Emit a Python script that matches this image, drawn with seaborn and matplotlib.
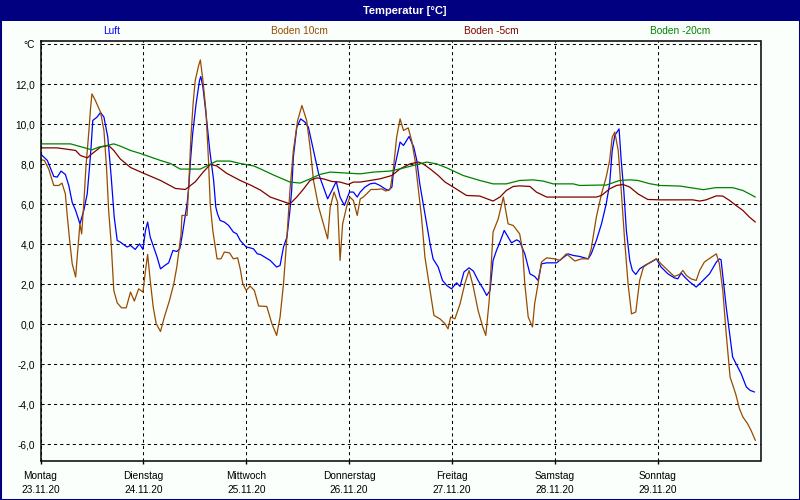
import numpy as np
import pandas as pd
import matplotlib
matplotlib.use("Agg")
import matplotlib.pyplot as plt
import matplotlib.transforms as mtransforms
import seaborn as sns
from matplotlib.patches import Rectangle

# ---------------- data ----------------
title = "Temperatur [°C]"
series_names = ["Luft", "Boden 10cm", "Boden -5cm", "Boden -20cm"]
series_colors = ["#0000FF", "#964B00", "#800000", "#008000"]
day_names = ["Montag", "Dienstag", "Mittwoch", "Donnerstag", "Freitag", "Samstag", "Sonntag"]
day_dates = ["23.11.20", "24.11.20", "25.11.20", "26.11.20", "27.11.20", "28.11.20", "29.11.20"]
y_tick_values = [-6, -4, -2, 0, 2, 4, 6, 8, 10, 12, 14]
y_tick_labels = ["-6,0", "-4,0", "-2,0", "0,0", "2,0", "4,0", "6,0", "8,0", "10,0", "12,0", "°C"]

# hours since Monday 00:00
luft_hours = [0, 1.6, 3.1, 3.9, 4.8, 5.8, 6.6, 7.4, 8.2, 9.2, 10.1, 10.9, 11.5, 11.8, 12.2, 13.2,
              14.0, 14.8, 15.7, 16.5, 17.2, 17.9, 18.6, 20.2, 21.0, 22.1, 23.1, 23.9, 24.5, 25.0,
              25.6, 26.4, 27.2, 28.0, 29.0, 29.9, 30.9, 31.8, 32.5, 33.0, 33.6, 34.2, 34.6, 35.0,
              35.5, 36.3, 37.1, 37.4, 37.9, 38.7, 39.5, 40.4, 40.9, 41.3, 41.9, 42.9, 43.9, 45.0,
              45.8, 46.6, 48.0, 48.9, 49.7, 50.6,
              51.3, 53.6, 55.1, 55.9, 56.7, 57.5, 58.2, 58.6, 59.0, 59.8, 60.7, 61.7, 62.5, 63.7,
              64.9, 66.0, 67.0, 68.0, 69.0, 69.9, 70.9, 72.1, 73.0, 73.9, 74.6, 75.7, 76.9, 78.0,
              79.2, 80.4, 81.2, 82.0, 82.3, 82.9, 83.9, 84.7, 86.0, 87.1, 87.8, 88.5, 89.3, 90.1,
              90.9, 91.6, 92.8, 93.8, 94.8, 95.9, 97.1, 97.9, 98.8, 100.0, 101.0, 102.1, 103.3,
              104.1, 104.9, 105.6, 106.4, 107.2, 108.2, 109.1, 109.9, 111.1,
              111.8, 113.0, 114.2, 115.3, 116.1, 116.9, 118.1, 120.4, 121.9, 123.1, 124.3, 125.8,
              127.8, 128.5, 129.7, 130.9, 132.0, 132.8, 133.4, 134.0, 135.0, 135.5, 136.1, 136.7,
              137.5, 138.1, 138.9, 139.8, 141.0, 142.5, 143.7, 144.8, 146.4, 147.9, 148.7, 149.5,
              150.3, 151.5, 153.0, 154.2, 156.1, 157.7, 158.4, 158.8, 159.4, 160.0, 160.6, 161.5,
              162.5, 163.5, 164.7, 165.6, 166.6]
luft_temp = [8.53, 8.2, 7.4, 7.37, 7.67, 7.5, 6.95, 6.1, 5.7, 5.03, 5.7, 6.53, 8.03, 8.87, 10.2, 10.37,
             10.6, 10.37, 9.37, 7.37, 5.37, 4.2, 4.12, 3.87, 3.95, 3.75, 4.03, 3.75, 4.7, 5.12,
             4.37, 3.87, 3.37, 2.78, 2.95, 3.08, 3.7, 3.65, 3.78, 4.37, 5.2, 6.03, 6.87, 8.2,
             9.53, 11.03, 12.2, 12.4, 11.87, 10.37, 8.7, 7.2, 5.87, 5.53, 5.2, 5.12, 4.95, 4.62,
             4.53, 4.2, 3.87, 3.83, 3.78, 3.53,
             3.5, 3.2, 2.87, 2.95, 3.87, 4.37, 5.7, 6.7, 8.37, 9.87, 10.28, 10.12, 9.87, 8.7,
             7.53, 6.87, 6.28, 6.7, 7.15, 6.37, 5.95, 6.62, 6.62, 6.37, 6.62, 6.87, 7.03, 7.07,
             6.95, 6.78, 6.7, 6.87, 7.53, 8.12, 9.12, 8.95, 9.4, 8.87, 8.2, 7.03, 6.03, 5.03,
             4.03, 3.28, 2.87, 2.2, 1.95, 1.78, 2.08, 1.9, 2.62, 2.83, 2.67, 2.2, 1.78,
             1.45, 1.7, 3.2, 3.7, 4.12, 4.7, 4.37, 4.08, 4.23,
             4.15, 3.53, 2.53, 2.4, 2.2, 3.03, 3.08, 3.08, 3.33, 3.53, 3.45, 3.4,
             3.28, 3.53, 4.2, 5.03, 6.03, 7.03, 8.7, 9.45, 9.78, 8.2, 6.7, 4.7,
             3.2, 2.7, 2.5, 2.78, 2.95, 3.12, 3.28, 2.87, 2.53, 2.33, 2.28, 2.57,
             2.37, 2.12, 1.87, 2.12, 2.53, 3.12, 3.28, 3.23, 2.03, 0.87, -0.13, -1.63,
             -2.05, -2.47, -3.13, -3.3, -3.38]

boden10_hours = [0, 0.9, 1.9, 3.1, 4.3, 5.0, 5.8, 6.2, 6.8, 7.4, 8.2, 8.5, 9.2, 9.6, 10.1, 10.6,
                 11.3, 11.7, 12.0, 12.8, 14.0, 14.8, 15.4, 15.9, 16.5, 17.1, 17.9, 18.9, 20.0,
                 21.0, 21.9, 22.9, 23.9, 24.5, 25.0, 25.6, 26.3, 27.0, 28.0, 28.9, 30.1, 31.1,
                 31.8, 32.4, 32.8, 33.0, 34.2, 34.6, 35.1, 35.6, 36.1, 36.9, 37.3, 37.9, 38.6,
                 39.2, 39.6, 40.2, 41.2, 42.1, 42.9, 44.1, 45.0, 46.0, 46.6, 47.2, 48.0, 48.9,
                 49.9, 50.9,
                 52.8, 54.0, 55.1, 55.9, 56.7, 57.5, 58.2, 59.0, 60.0, 61.0, 62.1, 62.9, 63.7,
                 64.9, 66.0, 67.0, 67.6, 68.5, 69.3, 69.9, 70.5, 71.5, 72.2, 73.0, 73.9, 74.6,
                 75.3, 76.1, 77.1, 78.4, 79.6, 80.6, 81.6, 82.3, 83.1, 83.9, 84.7, 85.8, 86.6,
                 87.4, 88.2, 88.9, 89.7, 90.9, 91.8, 93.2, 94.4, 95.1, 95.7, 96.7, 97.9, 99.0,
                 100.0, 101.0, 102.1, 103.2, 103.9, 104.7, 105.6, 106.8, 108.0, 109.1, 110.3,
                 111.8, 112.5, 113.0, 113.8, 114.8, 115.3, 116.1, 116.9, 118.1, 120.0, 121.2,
                 122.7, 124.7, 126.2, 127.8, 128.5, 129.7, 130.9, 132.0, 132.8, 133.4, 134.0,
                 134.8, 135.5, 136.3, 137.1, 137.9, 138.9, 139.8, 140.7, 141.7, 143.7, 144.8,
                 146.4, 147.9, 149.1, 149.9, 150.7, 151.8, 153.0, 153.8, 154.9, 156.3, 157.7,
                 158.4, 159.2, 160.0, 160.9, 162.2, 163.1, 163.9, 165.0, 165.8, 166.8]
boden10_temp = [8.25, 8.2, 7.78, 6.95, 6.95, 7.07, 6.53, 5.53, 4.2, 3.03, 2.37, 3.2, 5.03, 4.53, 6.03, 7.87,
                9.7, 10.87, 11.53, 11.2, 10.62, 9.7, 7.87, 5.7, 4.03, 1.7, 1.08, 0.83, 0.83,
                1.62, 1.17, 1.78, 1.62, 2.7, 3.5, 2.2, 0.87, 0.03, -0.35, 0.37, 1.2, 2.03,
                2.87, 3.87, 4.53, 5.45, 5.45, 7.03, 9.37, 11.03, 12.2, 12.95, 13.23, 12.2, 10.7,
                8.2, 6.03, 4.7, 3.28, 3.28, 3.62, 3.58, 3.28, 3.33, 2.78, 2.03, 1.7, 1.92,
                1.7, 0.92,
                0.9, 0.03, -0.55, 0.37, 2.03, 4.37, 6.7, 8.7, 10.2, 10.95, 10.2, 8.87, 7.2,
                5.87, 5.03, 4.28, 5.87, 6.62, 6.12, 3.2, 5.03, 5.95, 6.37, 6.2, 5.45, 6.28,
                6.37, 6.53, 6.75, 6.75, 6.78, 6.67, 6.78, 7.7, 9.37, 10.28, 9.7, 9.83, 9.2,
                8.2, 6.7, 5.37, 3.37, 1.7, 0.45, 0.28, 0.03, -0.22, 0.37, 0.28, 1.03, 2.03,
                2.7, 1.87, 0.7, -0.13, -0.55, 1.2, 4.62, 5.28, 6.37, 5.03, 4.95,
                4.53, 3.7, 2.03, 0.37, -0.13, 1.03, 2.03, 3.12, 3.33, 3.28, 3.2,
                3.53, 3.17, 3.28, 3.28, 3.78, 5.37, 6.53, 7.37, 8.2, 9.37, 9.62,
                8.7, 6.7, 4.2, 2.03, 0.53, 0.62, 2.2, 2.87, 3.03, 3.28, 3.03,
                2.7, 2.4, 2.5, 2.7, 2.45, 2.28, 2.2, 2.7, 3.12, 3.33, 3.53,
                3.03, 1.7, -0.47, -2.63, -3.47, -4.22, -4.63, -4.97, -5.3, -5.8]

boden5_hours = [0, 3.9, 6.6, 8.2, 9.3, 10.9, 12.0, 14.0, 15.9, 17.1, 18.6, 21.0, 23.3, 28.0, 31.5,
                33.8, 36.1, 38.0, 39.6, 41.1, 43.5, 46.6, 49.0, 51.3, 53.6, 55.9, 58.2, 59.8,
                61.4, 62.9, 64.5, 66.0, 68.0, 69.9, 71.8, 73.0, 74.6, 76.9, 79.2, 82.0, 83.9,
                86.2, 88.2, 89.3, 90.9, 92.8, 94.4, 96.3, 99.4, 102.5, 105.6, 107.2, 108.7,
                110.3, 111.8, 114.2, 115.7, 118.1, 129.7, 130.9, 132.8, 134.4, 135.9, 137.5,
                139.4, 141.7, 144.5, 152.2, 153.8, 155.3, 157.7, 159.2, 160.8, 162.3, 163.9,
                165.4, 166.8]
boden5_temp = [8.83, 8.83, 8.75, 8.7, 8.45, 8.33, 8.53, 8.87, 8.95, 8.7, 8.28, 7.85, 7.63, 7.2, 6.8,
               6.75, 7.13, 7.63, 8.0, 7.93, 7.55, 7.2, 6.97, 6.72, 6.37, 6.2, 6.03, 6.37,
               6.78, 7.2, 7.33, 7.28, 7.15, 7.12, 7.0, 7.12, 7.12, 7.2, 7.28, 7.45, 7.78,
               8.03, 8.12, 8.03, 7.78, 7.45, 7.12, 6.87, 6.45, 6.42, 6.17, 6.37, 6.7,
               6.9, 6.93, 6.9, 6.62, 6.37, 6.37, 6.45, 6.78, 6.95, 7.0, 6.87,
               6.53, 6.25, 6.23, 6.23, 6.17, 6.23, 6.43, 6.42, 6.2, 5.95, 5.7,
               5.37, 5.12]

boden20_hours = [0, 7.0, 9.7, 12.0, 13.6, 15.5, 17.1, 18.6, 21.0, 23.3, 28.0, 30.3, 32.6, 37.3,
                 38.8, 41.1, 44.2, 46.6, 49.7, 51.3, 54.4, 58.2, 60.6, 62.9, 65.2, 67.6, 71.4,
                 74.6, 77.7, 81.6, 83.9, 87.0, 90.1, 92.4, 94.8, 98.6, 102.5, 105.6, 108.7,
                 111.8, 114.9, 117.3, 119.6, 124.3, 125.8, 130.5, 132.0, 135.1, 137.5, 139.4,
                 142.1, 144.5, 149.3, 150.7, 154.7, 157.5, 161.5, 163.9, 165.4, 166.8]
boden20_temp = [9.03, 9.03, 8.87, 8.73, 8.87, 8.95, 9.03, 8.92, 8.7, 8.55, 8.2, 8.05, 7.77, 7.77,
                7.93, 8.17, 8.17, 8.05, 7.93, 7.78, 7.47, 7.12, 7.07, 7.28, 7.5, 7.62, 7.57,
                7.53, 7.62, 7.67, 7.78, 7.95, 8.12, 8.03, 7.83, 7.45, 7.2, 7.03, 7.03,
                7.2, 7.23, 7.17, 7.03, 7.03, 6.95, 6.97, 6.97, 7.2, 7.23, 7.2,
                7.04, 6.95, 6.92, 6.87, 6.74, 6.84, 6.84, 6.7, 6.53, 6.37]

# ---------------- build long table ----------------
frames = []
for name, hrs, vals in zip(series_names,
                           [luft_hours, boden10_hours, boden5_hours, boden20_hours],
                           [luft_temp, boden10_temp, boden5_temp, boden20_temp]):
    frames.append(pd.DataFrame({"day": np.asarray(hrs) / 24.0, "temp": vals, "series": name}))
df = pd.concat(frames, ignore_index=True)

# ---------------- style ----------------
sns.set_theme(style="white")
plt.rcParams["font.family"] = ["Liberation Sans", "DejaVu Sans"]

bg = "#FBFFFB"
navy = "#000080"
W, H = 800, 500

fig = plt.figure(figsize=(8, 5), dpi=100, facecolor=bg)
ax = fig.add_axes([40.5 / W, 1 - 461 / H, 720 / W, (461 - 40.5) / H])
ax.set_facecolor(bg)

sns.lineplot(data=df, x="day", y="temp", hue="series", hue_order=series_names,
             palette=dict(zip(series_names, series_colors)), estimator=None, sort=False,
             legend=False, linewidth=0.9, ax=ax)

ax.set_xlim(0, 7)
ax.set_ylim(-6.83, 14.2)
ax.set_xlabel("")
ax.set_ylabel("")

ax.set_yticks(y_tick_values)
ax.set_yticklabels(y_tick_labels, fontsize=7.3, color="black")
ax.set_xticks(range(len(day_names)))
ax.set_xticklabels([f"{d}\n{t}" for d, t in zip(day_names, day_dates)],
                   fontsize=7.3, color="black", linespacing=1.5)
shift = mtransforms.ScaledTranslation(-3 / 100, 0, fig.dpi_scale_trans)
for lbl in ax.get_xticklabels():
    lbl.set_transform(lbl.get_transform() + shift)

ax.tick_params(axis="y", length=0, pad=4)
ax.tick_params(axis="x", direction="out", length=2.5, width=1, color="black",
               pad=5, bottom=True)

ax.grid(True, color="black", linestyle=(0, (3, 3)), linewidth=0.75)
for sp in ax.spines.values():
    sp.set_visible(True)
    sp.set_color("black")
    sp.set_linewidth(1.1)

# title bar
fig.add_artist(Rectangle((0, 1 - 21 / H), 1, 21 / H, transform=fig.transFigure,
                         facecolor=navy, edgecolor="none", zorder=0))
fig.text(405 / W, 1 - 10.5 / H, title, color="white", fontweight="bold", fontsize=8,
         ha="center", va="center")

# legend labels
legend_x = [112, 299, 491, 680]
for name, col, lx in zip(series_names, series_colors, legend_x):
    fig.text(lx / W, 1 - 31 / H, name, color=col, fontsize=7.3, ha="center", va="center")

# border
fig.add_artist(Rectangle((0, 0), 1, 1, transform=fig.transFigure, fill=False,
                         edgecolor=navy, linewidth=2.2, zorder=10))

fig.savefig("out.png", dpi=100, facecolor=fig.get_facecolor())
